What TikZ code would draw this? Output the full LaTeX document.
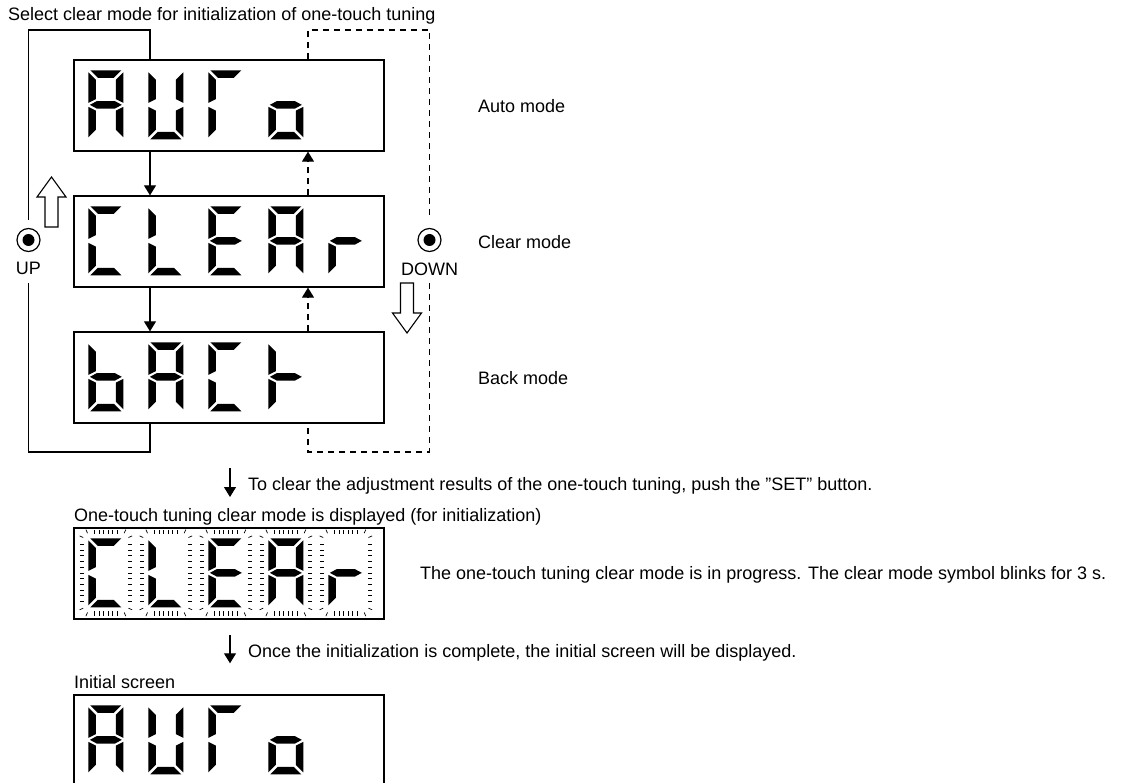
\documentclass[tikz,border=0pt]{standalone}
\usepackage{fontspec}
\setmainfont{Liberation Sans}
\usetikzlibrary{calc,arrows.meta}

\def\dispsega{(2,0) -- (33,0) -- (25.5,7.5) -- (9.5,7.5) -- cycle}
\def\dispsegb{(35,2) -- (27.5,9.5) -- (27.5,28.75) -- (35,32.5) -- cycle}
\def\dispsegc{(35,36.5) -- (27.5,40.25) -- (27.5,59.5) -- (35,67) -- cycle}
\def\dispsegd{(2,69) -- (33,69) -- (25.5,61.5) -- (9.5,61.5) -- cycle}
\def\dispsege{(0,36.5) -- (7.5,40.25) -- (7.5,59.5) -- (0,67) -- cycle}
\def\dispsegf{(0,2) -- (7.5,9.5) -- (7.5,28.75) -- (0,32.5) -- cycle}
\def\dispsegg{(1.5,34.5) -- (8.5,30.75) -- (26.5,30.75) -- (33.5,34.5) -- (26.5,38.25) -- (8.5,38.25) -- cycle}
\def\lcddigit#1#2#3{\begin{scope}[shift={($(#1.north west)+(15+60*#2,11)$)}]
  \foreach \s in {#3}{\expandafter\fill\csname dispseg\s\endcsname;}
\end{scope}}
\def\lcdhalo#1#2{\begin{scope}[shift={($(#1.north west)+(15+60*#2,11)$)},line width=0.7pt]
  \foreach \t in {0,...,10}{\draw (-8.5,6+5.7*\t) -- (-4.5,6+5.7*\t) (39.5,6+5.7*\t) -- (43.5,6+5.7*\t);}
  \foreach \t in {0,...,5}{\draw (6+4.6*\t,-8.5) -- (6+4.6*\t,-4) (6+4.6*\t,73) -- (6+4.6*\t,77.5);}
  \foreach \cx/\cy/\a in {3/3/205,3/3/245,32/3/295,32/3/335,32/66/25,32/66/65,3/66/115,3/66/155}
    {\draw ($(\cx,\cy)+(\a:9)$) -- ($(\cx,\cy)+(\a:13)$);}
\end{scope}}
\def\blockarrow{(-6.5,0) -- (-6.5,-30) -- (-14.5,-30) -- (0,-50) -- (14.5,-30) -- (6.5,-30) -- (6.5,0) -- cycle}

\tikzset{
  display/.style={draw,line width=1.3pt,minimum width=310pt,minimum height=91pt,inner sep=0pt},
  note/.style={anchor=base west,inner sep=0pt},
  btnlabel/.style={anchor=base,inner sep=0pt},
  button/.style={circle,draw,line width=1.2pt,minimum size=23pt,inner sep=0pt,
    path picture={\fill (path picture bounding box.center) circle (6pt);}},
  loopline/.style={line width=1.1pt},
  dashline/.style={line width=1.1pt,dash pattern=on 6pt off 5pt},
  steparrow/.style={line width=1.1pt,-{Triangle[length=10pt,width=12pt]}},
  hollow/.style={draw,fill=white,line width=1.1pt}
}

\begin{document}
\begin{tikzpicture}[x=1pt,y=-1pt,font=\fontsize{18}{21}\selectfont]
\useasboundingbox (0,0) rectangle (1135,783);

\node[note] (title) at (8,20.7) {Select clear mode for initialization of one-touch tuning};

\node[display] (auto) at (229,105.5) {};
\node[display] (clear) at (229,241.5) {};
\node[display] (back) at (229,377.5) {};

\lcddigit{auto}{0}{a,b,c,e,f,g}
\lcddigit{auto}{1}{b,c,d,e,f}
\lcddigit{auto}{2}{a,e,f}
\lcddigit{auto}{3}{c,d,e,g}

\lcddigit{clear}{0}{a,d,e,f}
\lcddigit{clear}{1}{d,e,f}
\lcddigit{clear}{2}{a,d,e,f,g}
\lcddigit{clear}{3}{a,b,c,e,f,g}
\lcddigit{clear}{4}{e,g}

\lcddigit{back}{0}{c,d,e,f,g}
\lcddigit{back}{1}{a,b,c,e,f,g}
\lcddigit{back}{2}{a,d,e,f}
\lcddigit{back}{3}{e,f,g}

\node[note] (automode) at (478,112.5) {Auto mode};
\node[note] (clearmode) at (478,248.5) {Clear mode};
\node[note] (backmode) at (478,384.5) {Back mode};

\coordinate (uptop) at (150,30);
\coordinate (upret) at (150,452);
\coordinate (dntop) at (308,30);
\coordinate (dnret) at (308,452);

\node[button] (upbtn) at (28.5,240) {};
\node[btnlabel] (uplabel) at (28.5,275) {UP};
\node[button] (dnbtn) at (429.5,240) {};
\node[btnlabel] (dnlabel) at (429.5,276) {DOWN};

\draw[loopline,shorten >=8pt] (auto.north -| uptop) -- (uptop) -| (upbtn.north);
\draw[loopline,shorten <=8pt] (uplabel.south) |- (upret) -- (back.south -| upret);
\draw[dashline,shorten >=8pt] (auto.north -| dntop) -- (dntop) -| (dnbtn.north);
\draw[dashline,shorten <=7pt] (dnlabel.south) |- (dnret) -- (back.south -| dnret);

\draw[steparrow] (auto.south -| uptop) -- (clear.north -| uptop);
\draw[steparrow] (clear.south -| uptop) -- (back.north -| uptop);
\draw[steparrow,dash pattern=on 6pt off 5pt] (clear.north -| dntop) -- (auto.south -| dntop);
\draw[steparrow,dash pattern=on 6pt off 5pt] (back.north -| dntop) -- (clear.south -| dntop);

\draw[hollow,shift={(51.5,227)}] \blockarrow;
\draw[hollow,shift={(407,283)},yscale=-1] \blockarrow;

\coordinate (set1) at (230,468);
\coordinate (set2) at (230,497);
\draw[steparrow] (set1) -- (set2);
\node[note] (setnote) at (248,490) {To clear the adjustment results of the one-touch tuning, push the "SET" button.};

\node[note] (blinktitle) at (74,521.7) {One-touch tuning clear mode is displayed (for initialization)};
\node[display] (blink) at (229,573.5) {};
\foreach \k in {0,...,4}{\lcdhalo{blink}{\k}}
\lcddigit{blink}{0}{a,d,e,f}
\lcddigit{blink}{1}{d,e,f}
\lcddigit{blink}{2}{a,d,e,f,g}
\lcddigit{blink}{3}{a,b,c,e,f,g}
\lcddigit{blink}{4}{e,g}
\node[note] (blinknote) at (420,579.5) {The one-touch tuning clear mode is in progress. The clear mode symbol blinks for 3 s.};

\coordinate (done1) at (230,635);
\coordinate (done2) at (230,663.3);
\draw[steparrow] (done1) -- (done2);
\node[note] (donenote) at (248,657) {Once the initialization is complete, the initial screen will be displayed.};

\node[note] (inittitle) at (74,688) {Initial screen};
\node[display] (init) at (229,740.5) {};
\lcddigit{init}{0}{a,b,c,e,f,g}
\lcddigit{init}{1}{b,c,d,e,f}
\lcddigit{init}{2}{a,e,f}
\lcddigit{init}{3}{c,d,e,g}
\end{tikzpicture}
\end{document}
